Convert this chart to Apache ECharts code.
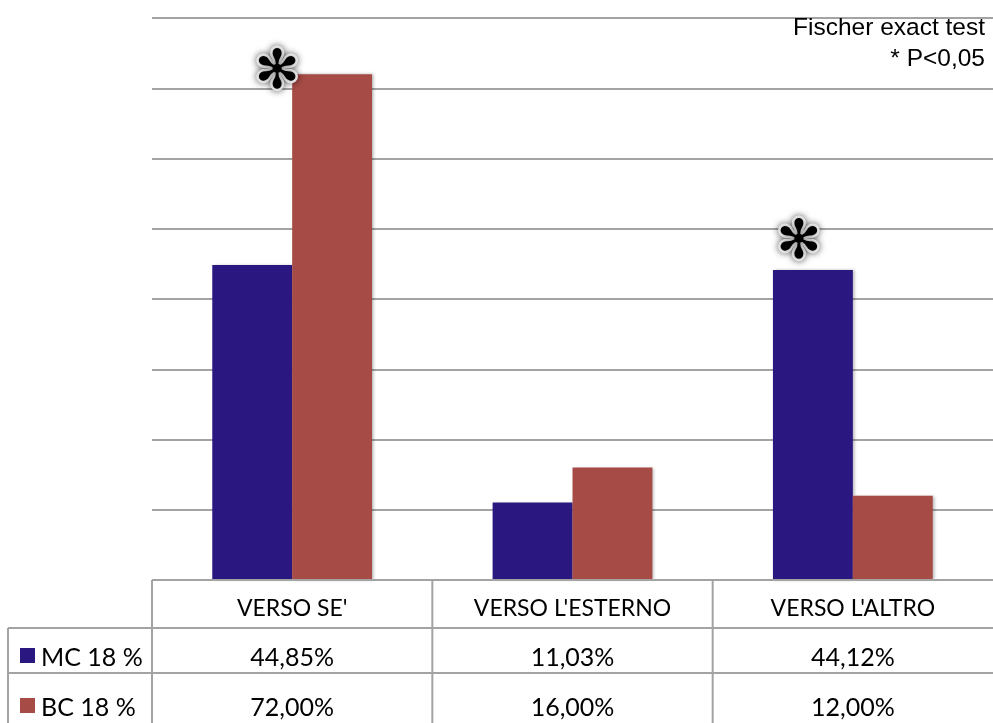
<!DOCTYPE html>
<html>
<head>
<meta charset="utf-8">
<script src="https://cdn.jsdelivr.net/npm/echarts@6/dist/echarts.min.js"></script>
<style>
  html, body { margin: 0; padding: 0; background: #fff; }
  #chart { width: 993px; height: 723px; }
</style>
</head>
<body>
<div id="chart"></div>
<script>
// Categories and the two series (percent values)
const categories = ["VERSO SE'", "VERSO L'ESTERNO", "VERSO L'ALTRO"];
const seriesNames = ['MC 18 %', 'BC 18 %'];
const mcValues = [44.85, 11.03, 44.12];
const bcValues = [72.00, 16.00, 12.00];
// Bars marked as significant (Fisher exact test, P<0,05)
const mcSignificant = [false, false, true];
const bcSignificant = [true, false, false];
const noteLines = ['Fischer exact test', '* P<0,05'];

const COLORS = ['#2a1780', '#a64b45'];
const GRID_COLOR = '#a3a3a3';
const TABLE_FONT = 'Lato, "Open Sans", sans-serif';

const chart = echarts.init(document.getElementById('chart'), null, { renderer: 'canvas' });

function fmtPct(v) {
  return v.toFixed(2).replace('.', ',') + '%';
}

const starStyle = {
  show: true,
  formatter: '\u273B',
  fontFamily: '"DejaVu Sans", sans-serif',
  fontSize: 54,
  fontWeight: 'bold',
  color: '#000',
  align: 'center',
  verticalAlign: 'middle',
  textBorderColor: '#fff',
  textBorderWidth: 5,
  textShadowColor: 'rgba(0,0,0,0.55)',
  textShadowBlur: 7
};

function buildData(values, flags, starPos) {
  return values.map((v, i) => flags[i]
    ? { value: v, label: Object.assign({}, starStyle, { position: starPos }) }
    : v);
}

const barShadow = {
  shadowColor: 'rgba(0,0,0,0.28)',
  shadowBlur: 3,
  shadowOffsetX: 2,
  shadowOffsetY: 0
};

const option = {
  animation: false,
  backgroundColor: '#fff',
  grid: { left: 152, right: 0, top: 18, bottom: 143 },
  xAxis: {
    type: 'category',
    data: categories,
    axisLine: { show: false },
    axisTick: { show: false },
    axisLabel: { show: false },
    splitLine: { show: false }
  },
  yAxis: {
    type: 'value',
    min: 0,
    max: 80,
    interval: 10,
    axisLine: { show: false },
    axisTick: { show: false },
    axisLabel: { show: false },
    splitLine: { show: true, lineStyle: { color: GRID_COLOR, width: 2 } }
  },
  series: [
    {
      name: seriesNames[0],
      type: 'bar',
      data: buildData(mcValues, mcSignificant, [26, -26]),
      barGap: '0%',
      barCategoryGap: '43%',
      itemStyle: Object.assign({ color: COLORS[0] }, barShadow)
    },
    {
      name: seriesNames[1],
      type: 'bar',
      data: buildData(bcValues, bcSignificant, [-15, 0]),
      barGap: '0%',
      barCategoryGap: '43%',
      itemStyle: Object.assign({ color: COLORS[1] }, barShadow)
    }
  ]
};

chart.setOption(option);

// Data table under the plot: header row with categories, then one row per series
function drawTable() {
  const centers = categories.map(c => chart.convertToPixel({ xAxisIndex: 0 }, c));
  const band = centers.length > 1 ? centers[1] - centers[0] : 280;
  const bounds = [centers[0] - band / 2].concat(centers.map(c => c + band / 2));
  const top = chart.convertToPixel({ yAxisIndex: 0 }, 0);
  const rowH = [48, 45, 50];
  const rowY = [top, top + rowH[0], top + rowH[0] + rowH[1], top + rowH[0] + rowH[1] + rowH[2]];
  const leftX = 8;
  const W = chart.getWidth();
  const H = chart.getHeight();
  const line = (x1, y1, x2, y2) => ({
    type: 'line',
    shape: { x1, y1, x2, y2 },
    style: { stroke: GRID_COLOR, lineWidth: 2 },
    z: 10
  });
  const els = [];
  // horizontal borders
  els.push(line(bounds[0], rowY[0], W, rowY[0]));
  els.push(line(leftX, rowY[1], W, rowY[1]));
  els.push(line(leftX, rowY[2], W, rowY[2]));
  // vertical borders
  bounds.forEach(x => { if (x < W - 1) els.push(line(x, rowY[0], x, H)); });
  els.push(line(leftX, rowY[1], leftX, H));

  const textEl = (x, y, text, size, align) => ({
    type: 'text',
    x, y,
    style: {
      text,
      fill: '#000',
      font: size + 'px ' + TABLE_FONT,
      align: align || 'center',
      verticalAlign: 'middle'
    },
    z: 11
  });
  const mid = [rowY[0] + 29, rowY[1] + 30, rowY[2] + 35];
  categories.forEach((c, i) => els.push(textEl(centers[i], mid[0], c, 23)));
  [mcValues, bcValues].forEach((vals, r) => {
    vals.forEach((v, i) => els.push(textEl(centers[i], mid[r + 1], fmtPct(v), 25)));
    els.push({
      type: 'rect',
      shape: { x: 20, y: mid[r + 1] - 10, width: 15, height: 15 },
      style: { fill: COLORS[r] },
      z: 11
    });
    els.push(textEl(41, mid[r + 1], seriesNames[r], 25, 'left'));
  });

  // significance note, top right
  noteLines.forEach((t, i) => {
    els.push({
      type: 'text',
      x: W - 8,
      y: 28 + i * 31,
      style: {
        text: t,
        fill: '#000',
        font: '24.5px "Liberation Sans", Arial, sans-serif',
        align: 'right',
        verticalAlign: 'middle'
      },
      z: 11
    });
  });

  chart.setOption({ graphic: { elements: els } });
}

drawTable();
</script>
</body>
</html>
